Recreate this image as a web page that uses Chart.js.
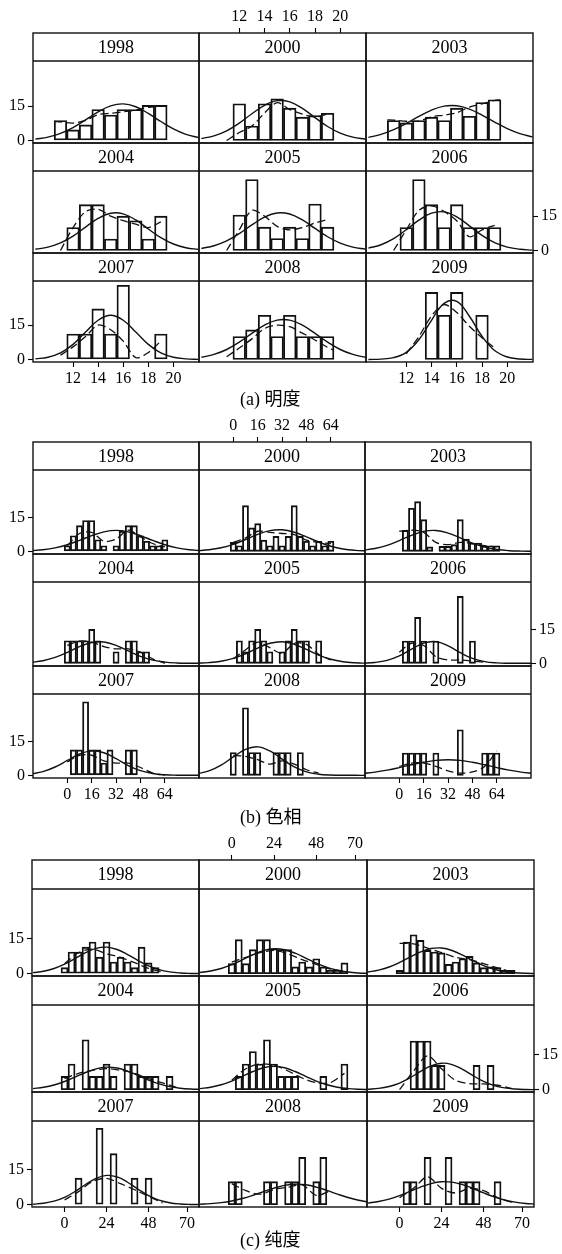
<!DOCTYPE html>
<html>
<head>
<meta charset="utf-8">
<script src="https://cdn.jsdelivr.net/npm/chart.js@4.4.1/dist/chart.umd.min.js"></script>
<style>
  html, body { margin: 0; padding: 0; background: #fff; }
  #page { position: relative; width: 562px; height: 1254px; overflow: hidden;
          font-family: 'Liberation Serif', 'Times New Roman', 'Noto Sans CJK SC', serif; color: #000; }
  .holder { position: absolute; }
  .strip { position: absolute; text-align: center; font-size: 18px; white-space: nowrap; }
  .cap { position: absolute; font-size: 18px; line-height: 20px; white-space: nowrap; }
</style>
</head>
<body>
<div id="page"></div>
<script>
// Panel order: 1998 2000 2003 / 2004 2005 2006 / 2007 2008 2009
const YEARS = ['1998', '2000', '2003', '2004', '2005', '2006', '2007', '2008', '2009'];
const COUNT_TICKS = [0, 15];

// ---- (a) 明度 (lightness) ----
const LIGHT_TICKS = [12, 14, 16, 18, 20];
const LIGHT_BINS = [11, 12, 13, 14, 15, 16, 17, 18, 19];
const LIGHT_BARS = [
  [8.7, 4.6, 6.8, 13.5, 11.1, 13.5, 13.5, 15.3, 15.3],
  [0, 16, 6.3, 16, 18.2, 14.1, 10.2, 10.9, 11.9],
  [8.7, 7.7, 8.7, 10.2, 8.7, 14.1, 10.6, 16.6, 17.8],
  [0, 10, 20, 20, 5, 15, 13, 5, 15],
  [0, 15.5, 31, 10.2, 5.2, 10.2, 5.2, 20.3, 10.2],
  [0, 10, 31, 20, 10, 20, 10, 10, 10],
  [0, 11.1, 11.1, 22.1, 11.1, 32.4, 0, 0, 11.1],
  [0, 10, 12.9, 19.3, 10, 19.3, 10, 10, 10],
  [0, 0, 0, 29.3, 19.3, 29.3, 0, 19.3, 0]
];
const LIGHT_NORM_X = [9, 10, 11, 12, 13, 14, 15, 16, 17, 18, 19, 20, 21, 22];
const LIGHT_NORM = [
  [0.61, 1.47, 3.08, 5.64, 8.99, 12.49, 15.14, 15.99, 14.72, 11.82, 8.28, 5.05, 2.69, 1.25],
  [0.83, 2.02, 4.22, 7.58, 11.65, 15.37, 17.38, 16.85, 14.01, 9.99, 6.11, 3.2, 1.44, 0.55],
  [1.36, 2.68, 4.72, 7.45, 10.51, 13.27, 15.0, 15.16, 13.72, 11.11, 8.05, 5.22, 3.03, 1.57],
  [0.54, 1.45, 3.29, 6.3, 10.21, 14.01, 16.28, 16.01, 13.33, 9.4, 5.6, 2.83, 1.21, 0.44],
  [0.88, 2.07, 4.2, 7.37, 11.16, 14.56, 16.39, 15.91, 13.32, 9.62, 5.99, 3.22, 1.49, 0.6],
  [1.01, 2.5, 5.18, 9.03, 13.23, 16.29, 16.87, 14.68, 10.74, 6.61, 3.42, 1.48, 0.54, 0.17],
  [0.27, 0.99, 2.88, 6.61, 11.99, 17.13, 19.3, 17.13, 11.99, 6.61, 2.88, 0.99, 0.27, 0.06],
  [0.96, 2.2, 4.36, 7.55, 11.4, 15.0, 17.2, 17.2, 15.0, 11.4, 7.55, 4.36, 2.2, 0.96],
  [0.02, 0.16, 0.82, 3.13, 8.62, 17.12, 24.52, 25.33, 18.88, 10.15, 3.94, 1.1, 0.22, 0.03]
];
const LIGHT_DENS_X = [10.5, 11, 12, 13, 14, 15, 16, 17, 18, 19, 19.5];
const LIGHT_DENS = [
  [8.3, 8.1, 7.6, 8.8, 11.3, 11.9, 12.5, 13.3, 14.5, 15, 15.2],
  [null, 0, 3.5, 6.3, 12, 16.5, 13.5, 11.5, 10.3, 11.6, null],
  [9, 8.9, 8.4, 8.5, 10.3, 11.1, 12.1, 14.6, 16, 17.5, 17.8],
  [null, 0, 10, 17, 18, 15, 13, 11.5, 10, 12.5, null],
  [null, 0, 9, 17.5, 15, 10.5, 9, 10, 12, 13.5, null],
  [null, 0, 9, 17.5, 19.5, 17, 13, 6, 9, 11, null],
  [null, 1.9, 5.5, 10, 15, 13, 8, 0.8, 3, 8, null],
  [null, 1.2, 5, 9, 13.5, 15, 14.3, 11.5, 8.5, 5.3, 4],
  [null, null, 2.5, 10, 19, 24, 20.5, 14.5, 9.5, 5, null]
];

// ---- (b) 色相 (hue) ----
const HUE_TICKS = [0, 16, 32, 48, 64];
const HUE_BINS = [0, 4, 8, 12, 16, 20, 24, 28, 32, 36, 40, 44, 48, 52, 56, 60, 64];
const HUE_BARS = [
  [2.5, 7, 11.5, 13.8, 13.8, 5.2, 2.5, 0, 2.5, 9, 11.5, 11.5, 7, 4.5, 2.5, 2.5, 5.2],
  [4, 2.5, 20.5, 10.5, 12.4, 5, 2.5, 6.7, 2.5, 6.7, 20.5, 6.7, 4.5, 2.5, 4.5, 2.5, 4.5],
  [0, 9.4, 19.3, 22.3, 14.2, 2, 0, 2.2, 2.2, 3, 14.2, 5.5, 3.7, 3.7, 2.5, 2.5, 2.5],
  [10.1, 10.1, 10.1, 10.1, 15.2, 10.1, 0, 0, 5.2, 0, 10.1, 10.1, 5.2, 5.2, 0, 0, 0],
  [0, 10.1, 5.2, 10.1, 15.2, 10.1, 5.2, 0, 5.2, 10.1, 15.2, 10.1, 10.1, 0, 10.1, 0, 0],
  [0, 10, 10, 20.6, 10, 0, 10, 0, 0, 0, 30, 0, 10, 0, 0, 0, 0],
  [0, 11.4, 11.4, 33, 11.4, 11.4, 5.5, 11.4, 0, 0, 11.4, 11.4, 0, 0, 0, 0, 0],
  [10.2, 0, 30.3, 10.2, 10.2, 0, 0, 10.2, 10.2, 10.2, 0, 10.2, 0, 0, 0, 0, 0],
  [0, 10, 10, 10, 10, 0, 10, 0, 0, 0, 20.4, 0, 0, 0, 10, 10, 10]
];
const HUE_NORM_X = [-24, -16, -8, 0, 8, 16, 24, 32, 40, 48, 56, 64, 72, 80, 88];
const HUE_NORM = [
  [0.27, 0.69, 1.53, 2.94, 4.89, 7.03, 8.74, 9.4, 8.74, 7.03, 4.89, 2.94, 1.53, 0.69, 0.27],
  [0.25, 0.69, 1.6, 3.15, 5.3, 7.59, 9.27, 9.65, 8.56, 6.47, 4.17, 2.29, 1.07, 0.43, 0.14],
  [0.5, 1.27, 2.7, 4.81, 7.16, 8.94, 9.35, 8.18, 6.0, 3.69, 1.9, 0.82, 0.29, 0.09, 0.02],
  [0.43, 1.17, 2.65, 4.91, 7.47, 9.33, 9.57, 8.05, 5.56, 3.15, 1.46, 0.56, 0.17, 0.04, 0.01],
  [0.09, 0.32, 0.93, 2.2, 4.29, 6.85, 8.99, 9.69, 8.56, 6.21, 3.7, 1.81, 0.72, 0.24, 0.06],
  [0.09, 0.4, 1.33, 3.34, 6.34, 9.05, 9.71, 7.85, 4.77, 2.18, 0.75, 0.19, 0.04, 0.01, 0],
  [0.6, 1.67, 3.73, 6.67, 9.56, 10.98, 10.11, 7.45, 4.4, 2.09, 0.79, 0.24, 0.06, 0.01, 0],
  [0.66, 1.96, 4.56, 8.25, 11.63, 12.77, 10.93, 7.28, 3.78, 1.53, 0.48, 0.12, 0.02, 0, 0],
  [0.81, 1.44, 2.34, 3.47, 4.72, 5.87, 6.7, 7, 6.7, 5.87, 4.72, 3.47, 2.34, 1.44, 0.81]
];
const HUE_DENS_X = [0, 8, 16, 24, 32, 40, 48, 56, 64];
const HUE_DENS = [
  [2.5, 8, 8.5, 4.5, 5.5, 9.5, 6.5, 3.5, 2],
  [4, 6, 9, 8.5, 8, 7.5, 5, 4, 3.5],
  [9, 9.5, 8.5, 4, 3, 4, 3.5, 2.5, 2],
  [8, 10, 9.5, 7.5, 6.5, 6.5, 5, 2, 0],
  [2, 6, 9.5, 7, 4.5, 9, 8.5, 4, 1.5],
  [5, 9, 8, 3, 1.5, 1.5, 1, 0.5, null],
  [6, 9, 9, 6.5, 5.5, 5.5, 3.5, 1, 0],
  [9, 8.5, 7, 5, 6.5, 5, 2.5, 1, null],
  [4, 5.5, 5.5, 4, 2, 1, 1.5, 4, 11]
];

// ---- (c) 纯度 (chroma) ----
const CHROMA_TICKS = [0, 24, 48, 70];
const CHROMA_BINS = [0, 4, 8, 12, 16, 20, 24, 28, 32, 36, 40, 44, 48, 52, 56, 60, 64];
const CHROMA_BARS = [
  [2.6, 9.3, 9.3, 11.4, 13.6, 7.1, 13.6, 5, 7.1, 5, 2.6, 11.4, 4.6, 2.6, 0, 0, 0],
  [4.3, 14.6, 4.3, 10.3, 14.6, 14.6, 10.7, 10.3, 10.3, 2.9, 5, 2.9, 6.4, 2.9, 1.5, 1.5, 4.6],
  [1.4, 13.6, 16.7, 14.3, 10, 9.3, 8.9, 4, 5, 6.4, 7.4, 4.6, 2.6, 2.9, 2.6, 1.4, 1.4],
  [5.7, 11, 0, 21.4, 5.7, 5.7, 11, 5.7, 0, 11, 11, 5.7, 5.7, 5.7, 0, 5.7, 0],
  [0, 5.7, 11, 16.4, 11, 21.4, 11, 5.7, 5.7, 5.7, 0, 0, 0, 5.7, 0, 0, 11],
  [0, 0, 20.9, 20.9, 20.9, 10.4, 10.4, 0, 0, 0, 0, 10.4, 0, 10.4, 0, 0, 0],
  [0, 0, 11.4, 0, 0, 32.8, 0, 21.9, 0, 0, 11.4, 0, 11.4, 0, 0, 0, 0],
  [9.9, 9.9, 0, 0, 0, 9.9, 9.9, 0, 9.9, 9.9, 20.3, 0, 9.9, 20.3, 0, 0, 0],
  [0, 9.9, 9.9, 0, 20.3, 0, 0, 20.3, 0, 9.9, 9.9, 9.9, 0, 0, 9.9, 0, 0]
];
const CHROMA_NORM_X = [-18, -12, -6, 0, 6, 12, 18, 24, 30, 36, 42, 48, 54, 60, 66, 72, 78];
const CHROMA_NORM = [
  [0.43, 1.04, 2.21, 4.06, 6.48, 9.0, 10.86, 11.38, 10.36, 8.2, 5.63, 3.36, 1.74, 0.79, 0.31, 0.1, 0.03],
  [0.52, 1.15, 2.23, 3.86, 5.94, 8.12, 9.88, 10.68, 10.27, 8.78, 6.68, 4.51, 2.71, 1.45, 0.69, 0.29, 0.11],
  [0.7, 1.5, 2.86, 4.8, 7.13, 9.34, 10.8, 11.02, 9.94, 7.91, 5.56, 3.45, 1.89, 0.91, 0.39, 0.15, 0.05],
  [0.47, 1.04, 2.02, 3.5, 5.38, 7.36, 8.95, 9.68, 9.31, 7.96, 6.05, 4.09, 2.46, 1.31, 0.62, 0.26, 0.1],
  [0.47, 1.06, 2.11, 3.69, 5.71, 7.8, 9.4, 10, 9.4, 7.8, 5.71, 3.69, 2.11, 1.06, 0.47, 0.18, 0.06],
  [0.19, 0.54, 1.35, 2.84, 5.11, 7.83, 10.22, 11.37, 10.78, 8.71, 6.0, 3.52, 1.76, 0.75, 0.27, 0.08, 0.02],
  [0.21, 0.6, 1.49, 3.14, 5.65, 8.65, 11.3, 12.57, 11.92, 9.63, 6.63, 3.89, 1.94, 0.83, 0.3, 0.09, 0.03],
  [0.2, 0.44, 0.87, 1.59, 2.65, 4.03, 5.6, 7.12, 8.28, 8.79, 8.53, 7.56, 6.13, 4.54, 3.08, 1.9, 1.08],
  [0.68, 1.34, 2.4, 3.88, 5.69, 7.55, 9.06, 9.85, 9.68, 8.62, 6.94, 5.06, 3.34, 2.0, 1.08, 0.53, 0.23]
];
const CHROMA_DENS_X = [0, 8, 16, 24, 32, 40, 48, 56, 64];
const CHROMA_DENS = [
  [4.3, 9, 10.5, 8.5, 7, 4.7, 2.3, 0.7, null],
  [5, 7, 9, 10, 8.5, 6, 4, 2, 1],
  [13, 12.8, 11, 9, 7, 6, 4.3, 2.5, 0.7],
  [4.7, 7, 8.3, 9, 8.3, 7, 4.7, 2.9, 1],
  [4, 9, 11, 10.5, 8, 5, 3, 3, 7],
  [0, 8, 14.5, 9, 4, 2.6, 2.5, 1.9, 0.5],
  [2, 5.6, 10, 11.3, 9, 6.4, 3.6, 0.8, null],
  [9, 6, 4.5, 6.5, 7.5, 8.5, 4, 6, null],
  [3, 7, 12, 7, 5, 7, 6, 3, 1]
];

// ---- page layout of the three lattice figures ----
const SECTIONS = [
  { caption: '(a) 明度', capTop: 389,
    bins: LIGHT_BINS, bars: LIGHT_BARS, normX: LIGHT_NORM_X, norm: LIGHT_NORM,
    densX: LIGHT_DENS_X, dens: LIGHT_DENS, ticks: LIGHT_TICKS,
    xMin: 8.81, xMax: 22.04,
    colX: [33, 199, 366, 533], rowY: [33, 143, 253, 362], strip: 28, pxPerUnit: 2.29, yMin: -1.1 },
  { caption: '(b) 色相', capTop: 807,
    bins: HUE_BINS, bars: HUE_BARS, normX: HUE_NORM_X, norm: HUE_NORM,
    densX: HUE_DENS_X, dens: HUE_DENS, ticks: HUE_TICKS,
    xMin: -22.5, xMax: 86.4,
    colX: [33, 199, 365, 531], rowY: [442, 554, 666, 778], strip: 28, pxPerUnit: 2.23, yMin: -1.2 },
  { caption: '(c) 纯度', capTop: 1230,
    bins: CHROMA_BINS, bars: CHROMA_BARS, normX: CHROMA_NORM_X, norm: CHROMA_NORM,
    densX: CHROMA_DENS_X, dens: CHROMA_DENS, ticks: CHROMA_TICKS,
    xMin: -18.6, xMax: 76.8,
    colX: [32, 199, 367, 534], rowY: [860, 976, 1092, 1207], strip: 29, pxPerUnit: 2.33, yMin: -1.0 }
];

const M = 32;          // room reserved around each panel for its axes
const INK = '#111';

Chart.defaults.font.family = "'Liberation Serif', 'Times New Roman', serif";
Chart.defaults.font.size = 16;
Chart.defaults.color = '#000';

// panel frame plus the strip separator
const framePlugin = {
  id: 'frame',
  afterDatasetsDraw(chart, args, opts) {
    const { ctx, chartArea: a } = chart;
    ctx.save();
    ctx.strokeStyle = INK;
    ctx.lineWidth = 1.4;
    ctx.strokeRect(a.left, a.top, a.right - a.left, a.bottom - a.top);
    ctx.beginPath();
    ctx.moveTo(a.left, a.top + opts.strip);
    ctx.lineTo(a.right, a.top + opts.strip);
    ctx.stroke();
    ctx.restore();
  }
};

function fixedAxis(s) {
  const size = s.options.display ? M : 0;
  if (s.isHorizontal()) s.height = size; else s.width = size;
  s.paddingLeft = s.paddingRight = s.paddingTop = s.paddingBottom = 0;
}

function xAxis(sec, pos, show) {
  return {
    type: 'linear', position: pos, display: show, min: sec.xMin, max: sec.xMax, offset: false,
    grid: { drawOnChartArea: false, drawTicks: true, tickLength: 5, tickWidth: 1.1, tickColor: '#000', offset: false },
    border: { display: false },
    ticks: { autoSkip: false, maxRotation: 0, minRotation: 0, padding: 2, callback: v => String(v) },
    afterBuildTicks: s => { s.ticks = sec.ticks.map(v => ({ value: v })); },
    afterFit: fixedAxis
  };
}

function yAxis(yMin, yMax, pos, show) {
  return {
    type: 'linear', position: pos, display: show, min: yMin, max: yMax,
    grid: { drawOnChartArea: false, drawTicks: true, tickLength: 5, tickWidth: 1.1, tickColor: '#000' },
    border: { display: false },
    ticks: { autoSkip: false, padding: 3, callback: v => String(v) },
    afterBuildTicks: s => { s.ticks = COUNT_TICKS.map(v => ({ value: v })); },
    afterFit: fixedAxis
  };
}

const page = document.getElementById('page');

function panel(sec, r, c) {
  const idx = r * 3 + c;
  const x0 = sec.colX[c], x1 = sec.colX[c + 1];
  const y0 = sec.rowY[r], y1 = sec.rowY[r + 1];
  const w = x1 - x0, h = y1 - y0;
  const showL = c === 0 && r !== 1;
  const showR = c === 2 && r === 1;
  const showT = r === 0 && c === 1;
  const showB = r === 2 && c !== 1;

  const holder = document.createElement('div');
  holder.className = 'holder';
  holder.style.left = (x0 - M) + 'px';
  holder.style.top = (y0 - M) + 'px';
  const cv = document.createElement('canvas');
  cv.width = w + 2 * M; cv.height = h + 2 * M;
  cv.style.width = cv.width + 'px'; cv.style.height = cv.height + 'px';
  holder.appendChild(cv);
  page.appendChild(holder);

  const yMax = sec.yMin + h / sec.pxPerUnit;
  const bars = sec.bars[idx], norm = sec.norm[idx], dens = sec.dens[idx];

  new Chart(cv, {
    type: 'bar',
    data: {
      datasets: [
        { type: 'bar', order: 3,
          data: sec.bins.map((x, i) => ({ x, y: bars[i] > 0 ? bars[i] : null })),
          backgroundColor: 'rgba(255,255,255,0)', borderColor: INK, borderWidth: 1.2,
          borderSkipped: false, barPercentage: 1, categoryPercentage: 1,
          xAxisID: 'x', yAxisID: 'y' },
        { type: 'line', order: 1,
          data: sec.normX.map((x, i) => ({ x, y: norm[i] })),
          borderColor: INK, borderWidth: 1.4, pointRadius: 0, tension: 0.4, fill: false,
          xAxisID: 'x', yAxisID: 'y' },
        { type: 'line', order: 2,
          data: sec.densX.map((x, i) => ({ x, y: dens[i] })),
          borderColor: INK, borderWidth: 1.3, borderDash: [8, 4], pointRadius: 0, tension: 0.3,
          fill: false, spanGaps: false, xAxisID: 'x', yAxisID: 'y' }
      ]
    },
    options: {
      responsive: false, animation: false, devicePixelRatio: 1, events: [],
      layout: { padding: { left: showL ? 0 : M, right: showR ? 0 : M, top: showT ? 0 : M, bottom: showB ? 0 : M } },
      plugins: { legend: { display: false }, tooltip: { enabled: false }, frame: { strip: sec.strip } },
      scales: {
        x: xAxis(sec, 'bottom', showB),
        x2: xAxis(sec, 'top', showT),
        y: yAxis(sec.yMin, yMax, 'left', showL),
        y2: yAxis(sec.yMin, yMax, 'right', showR)
      }
    },
    plugins: [framePlugin]
  });

  const strip = document.createElement('div');
  strip.className = 'strip';
  strip.style.left = x0 + 'px';
  strip.style.top = y0 + 'px';
  strip.style.width = w + 'px';
  strip.style.height = sec.strip + 'px';
  strip.style.lineHeight = sec.strip + 'px';
  strip.textContent = YEARS[idx];
  page.appendChild(strip);
}

SECTIONS.forEach(sec => {
  for (let r = 0; r < 3; r++) for (let c = 0; c < 3; c++) panel(sec, r, c);
  const cap = document.createElement('div');
  cap.className = 'cap';
  cap.style.left = '240px';
  cap.style.top = sec.capTop + 'px';
  cap.textContent = sec.caption;
  page.appendChild(cap);
});
</script>
</body>
</html>
